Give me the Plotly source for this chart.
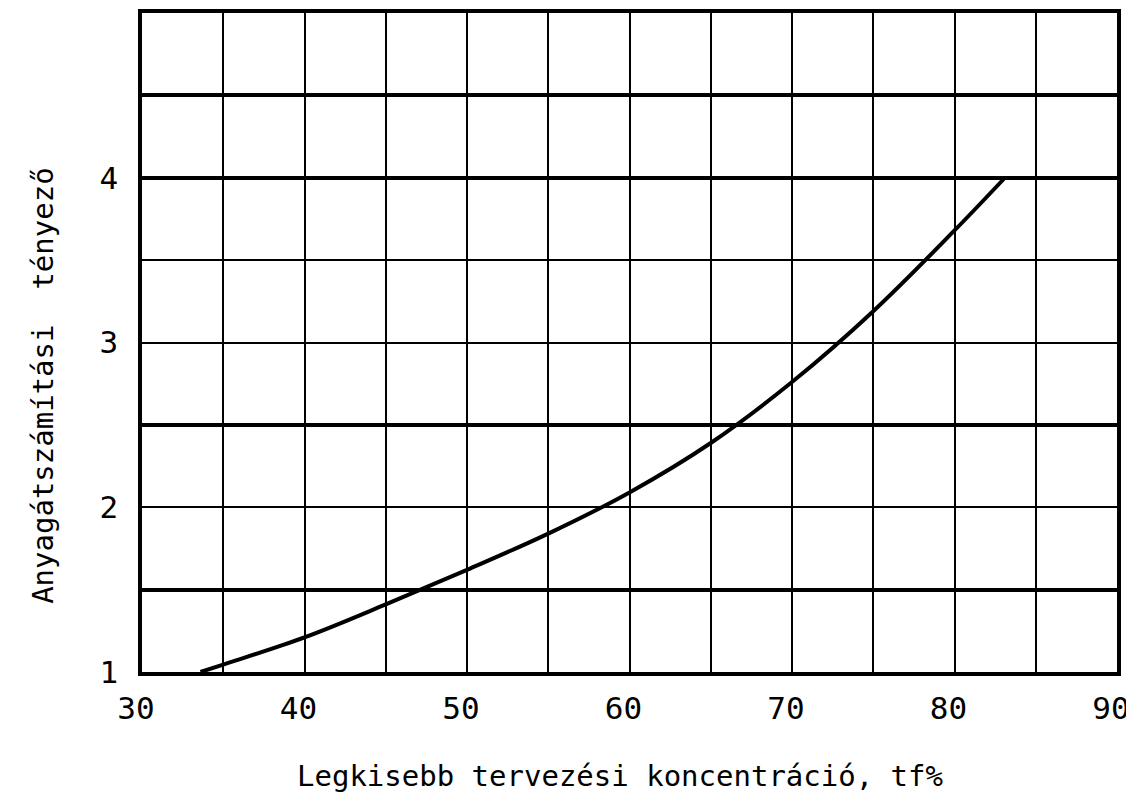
import plotly.graph_objects as go

# Curve
conc = [33.6, 35, 40, 45, 50, 55, 60, 65, 70, 75, 80, 83.1]
factor = [1.0, 1.045, 1.21, 1.41, 1.62, 1.84, 2.09, 2.39, 2.76, 3.19, 3.68, 4.0]

x_ticks = [30, 35, 40, 45, 50, 55, 60, 65, 70, 75, 80, 85, 90]
x_labels = ["30", "", "40", "", "50", "", "60", "", "70", "", "80", "", "90"]
y_ticks = [1, 1.5, 2, 2.5, 3, 3.5, 4, 4.5, 5]
y_labels = ["1", "", "2", "", "3", "", "4", "", ""]
y_heavy = [1.5, 2.5, 4, 4.5]

x_title = "Legkisebb tervezési koncentráció, tf%"
y_title = "Anyagátszámítási\u00a0 tényező"

FONT = "DejaVu Sans Mono"

fig = go.Figure()
fig.add_trace(go.Scatter(
    x=conc, y=factor, mode="lines",
    line=dict(color="black", width=4, shape="spline", smoothing=1.0),
    showlegend=False, hoverinfo="skip",
))

fig.update_layout(
    width=1126, height=790,
    margin=dict(l=134, r=17, t=5, b=126),
    paper_bgcolor="white", plot_bgcolor="white",
    font=dict(family=FONT, color="black", size=24),
    annotations=[
        dict(
            text=y_title, textangle=-90, xref="paper", yref="paper",
            x=-0.101, y=0.435, xanchor="center", yanchor="middle",
            showarrow=False, font=dict(family=FONT, size=29, color="black"),
        ),
        dict(
            text=x_title, xref="paper", yref="paper",
            x=0.49, y=-0.158, xanchor="center", yanchor="middle",
            showarrow=False, font=dict(family=FONT, size=29, color="black"),
        ),
    ],
)
fig.update_xaxes(
    range=[30, 90], tickvals=x_ticks, ticktext=x_labels,
    showgrid=True, gridcolor="black", gridwidth=2,
    showline=True, linecolor="black", linewidth=3.5, mirror=True,
    ticks="", zeroline=False, ticklabelstandoff=6, ticklabelshift=-6,
    tickfont=dict(family=FONT, size=31), automargin=False,
)
fig.update_yaxes(
    range=[1, 5], tickvals=y_ticks, ticktext=y_labels,
    showgrid=True, gridcolor="black", gridwidth=2,
    minor=dict(tickvals=y_heavy, showgrid=True, gridcolor="black", gridwidth=3.5, ticks=""),
    showline=True, linecolor="black", linewidth=3.5, mirror=True,
    ticks="", zeroline=False, ticklabelstandoff=14,
    tickfont=dict(family=FONT, size=31), automargin=False,
)

fig.write_html("out.html")
